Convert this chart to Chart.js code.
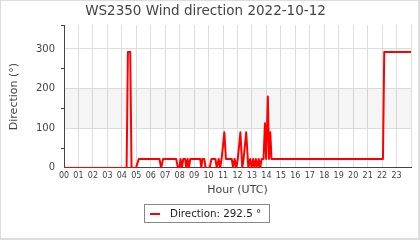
<!DOCTYPE html>
<html lang="en">

<head>
    <meta charset="UTF-8">
    <title>WS2350 Wind direction</title>
    <script src="https://cdn.jsdelivr.net/npm/chart.js"></script>
    <style>
        body { margin: 0; background: #fff; }
    </style>
</head>

<body>
    <canvas id="myChart" width="420" height="240"></canvas>

    <script>
        // hour of day (UTC) and wind direction in degrees
        const hours = [0, 4.33, 4.42, 4.58, 4.67, 4.98, 5.17, 6.6, 6.72, 6.85,
            7.76, 7.88, 7.98, 8.06, 8.15, 8.25, 8.38, 8.46, 8.55, 8.64,
            8.73, 9.42, 9.5, 9.57, 9.7, 9.79, 10.07, 10.2, 10.47, 10.57,
            10.7, 10.8, 10.9, 11.09, 11.2, 11.6, 11.7, 11.8, 11.92, 12.02,
            12.2, 12.33, 12.42, 12.6, 12.75, 12.87, 12.97, 13.08, 13.17, 13.27,
            13.37, 13.47, 13.57, 13.67, 13.8, 13.9, 13.98, 14.1, 14.18, 14.27,
            14.35, 22.06, 22.15, 24]
        const direction = [0, 0, 292.5, 292.5, 0, 0, 22.5, 22.5, 0, 22.5,
            22.5, 0, 0, 22.5, 0, 22.5, 22.5, 0, 22.5, 0,
            22.5, 22.5, 0, 22.5, 22.5, 0, 0, 22.5, 22.5, 0,
            22.5, 0, 22.5, 90, 22.5, 22.5, 0, 22.5, 0, 22.5,
            90, 0, 22.5, 90, 0, 22.5, 0, 22.5, 0, 22.5,
            0, 22.5, 0, 22.5, 22.5, 112.5, 22.5, 180, 22.5, 90,
            22.5, 22.5, 292.5, 292.5]

        const hourTicks = ['00', '01', '02', '03', '04', '05', '06', '07', '08', '09', '10', '11',
            '12', '13', '14', '15', '16', '17', '18', '19', '20', '21', '22', '23']
        const bandFrom = 100
        const bandTo = 200

        const points = hours.map((h, i) => ({ x: h, y: direction[i] }))
        const lastValue = direction[direction.length - 1]

        Chart.defaults.font.family = 'DejaVu Sans'
        Chart.defaults.color = '#444'

        // grey band behind the line, legend frame + sample, frame round the picture
        const extras = {
            id: 'extras',
            beforeDatasetsDraw(chart) {
                const ctx = chart.ctx
                const y = chart.scales.y
                const area = chart.chartArea
                const top = y.getPixelForValue(bandTo)
                const bottom = y.getPixelForValue(bandFrom)
                ctx.save()
                ctx.fillStyle = 'rgba(0,0,0,0.04)'
                ctx.fillRect(area.left, top, area.right - area.left, bottom - top)
                ctx.restore()
            },
            afterDraw(chart) {
                const ctx = chart.ctx
                ctx.save()
                const box = chart.legend.legendHitBoxes[0]
                if (box) {
                    const l = Math.round(box.left)
                    const t = Math.round(box.top)
                    const midY = t + Math.round(box.height / 2)
                    ctx.strokeStyle = '#888'
                    ctx.lineWidth = 1
                    ctx.strokeRect(l - 5.5, t - 4.5, Math.round(box.width) + 14, Math.round(box.height) + 8)
                    ctx.strokeStyle = chart.data.datasets[0].borderColor
                    ctx.lineWidth = 2
                    ctx.beginPath()
                    ctx.moveTo(l, midY)
                    ctx.lineTo(l + 10, midY)
                    ctx.stroke()
                }
                ctx.strokeStyle = '#ddd'
                ctx.lineWidth = 2
                ctx.strokeRect(0, 0, 419, 239)
                ctx.restore()
            }
        }

        const data = {
            datasets: [{
                label: 'Direction: ' + lastValue + ' °',
                data: points,
                borderColor: 'rgb(255, 0, 0)',
                backgroundColor: 'rgb(255, 0, 0)',
                borderWidth: 2,
                borderJoinStyle: 'round',
                pointRadius: 0,
                tension: 0
            }]
        }

        const config = {
            type: 'line',
            data: data,
            options: {
                responsive: false,
                animation: false,
                layout: { padding: { left: 0, right: 9, top: 0, bottom: 11 } },
                plugins: {
                    title: {
                        display: true,
                        text: 'WS2350 Wind direction 2022-10-12',
                        font: { size: 13.5, weight: 'normal' },
                        color: '#444',
                        padding: { top: 3, bottom: 6 }
                    },
                    legend: {
                        position: 'bottom',
                        labels: {
                            boxWidth: 15,
                            boxHeight: 2,
                            font: { size: 10.3 },
                            color: '#222',
                            generateLabels: chart => Chart.defaults.plugins.legend.labels.generateLabels(chart)
                                .map(item => ({ ...item, fillStyle: 'rgba(0,0,0,0)', strokeStyle: 'rgba(0,0,0,0)' }))
                        }
                    },
                    tooltip: { enabled: false }
                },
                scales: {
                    x: {
                        type: 'linear',
                        min: 0,
                        max: 24,
                        title: { display: true, text: 'Hour (UTC)', font: { size: 11 }, padding: { top: 0, bottom: 2 } },
                        ticks: {
                            stepSize: 1,
                            autoSkip: false,
                            maxRotation: 0,
                            font: { size: 8 },
                            padding: 3,
                            callback: v => hourTicks[v] || ''
                        },
                        grid: { color: '#ddd', drawTicks: false },
                        border: { color: '#444' }
                    },
                    y: {
                        min: 0,
                        max: 360,
                        title: { display: true, text: 'Direction (°)', font: { size: 11 }, padding: { top: 8, bottom: 0 } },
                        afterFit: s => { s.width = 64 },
                        ticks: {
                            stepSize: 50,
                            font: { size: 10 },
                            padding: 6,
                            callback: v => v % 100 === 0 ? v : ''
                        },
                        grid: {
                            tickLength: 3,
                            color: c => c.tick && c.tick.value % 100 === 0 ? '#ddd' : 'rgba(0,0,0,0)',
                            tickColor: c => c.tick && c.tick.value % 100 === 0 ? 'rgba(0,0,0,0)' : '#444'
                        },
                        border: { color: '#444' }
                    }
                }
            },
            plugins: [extras]
        }

        const myChart = new Chart(
            document.getElementById('myChart'),
            config
        )
    </script>
</body>

</html>
